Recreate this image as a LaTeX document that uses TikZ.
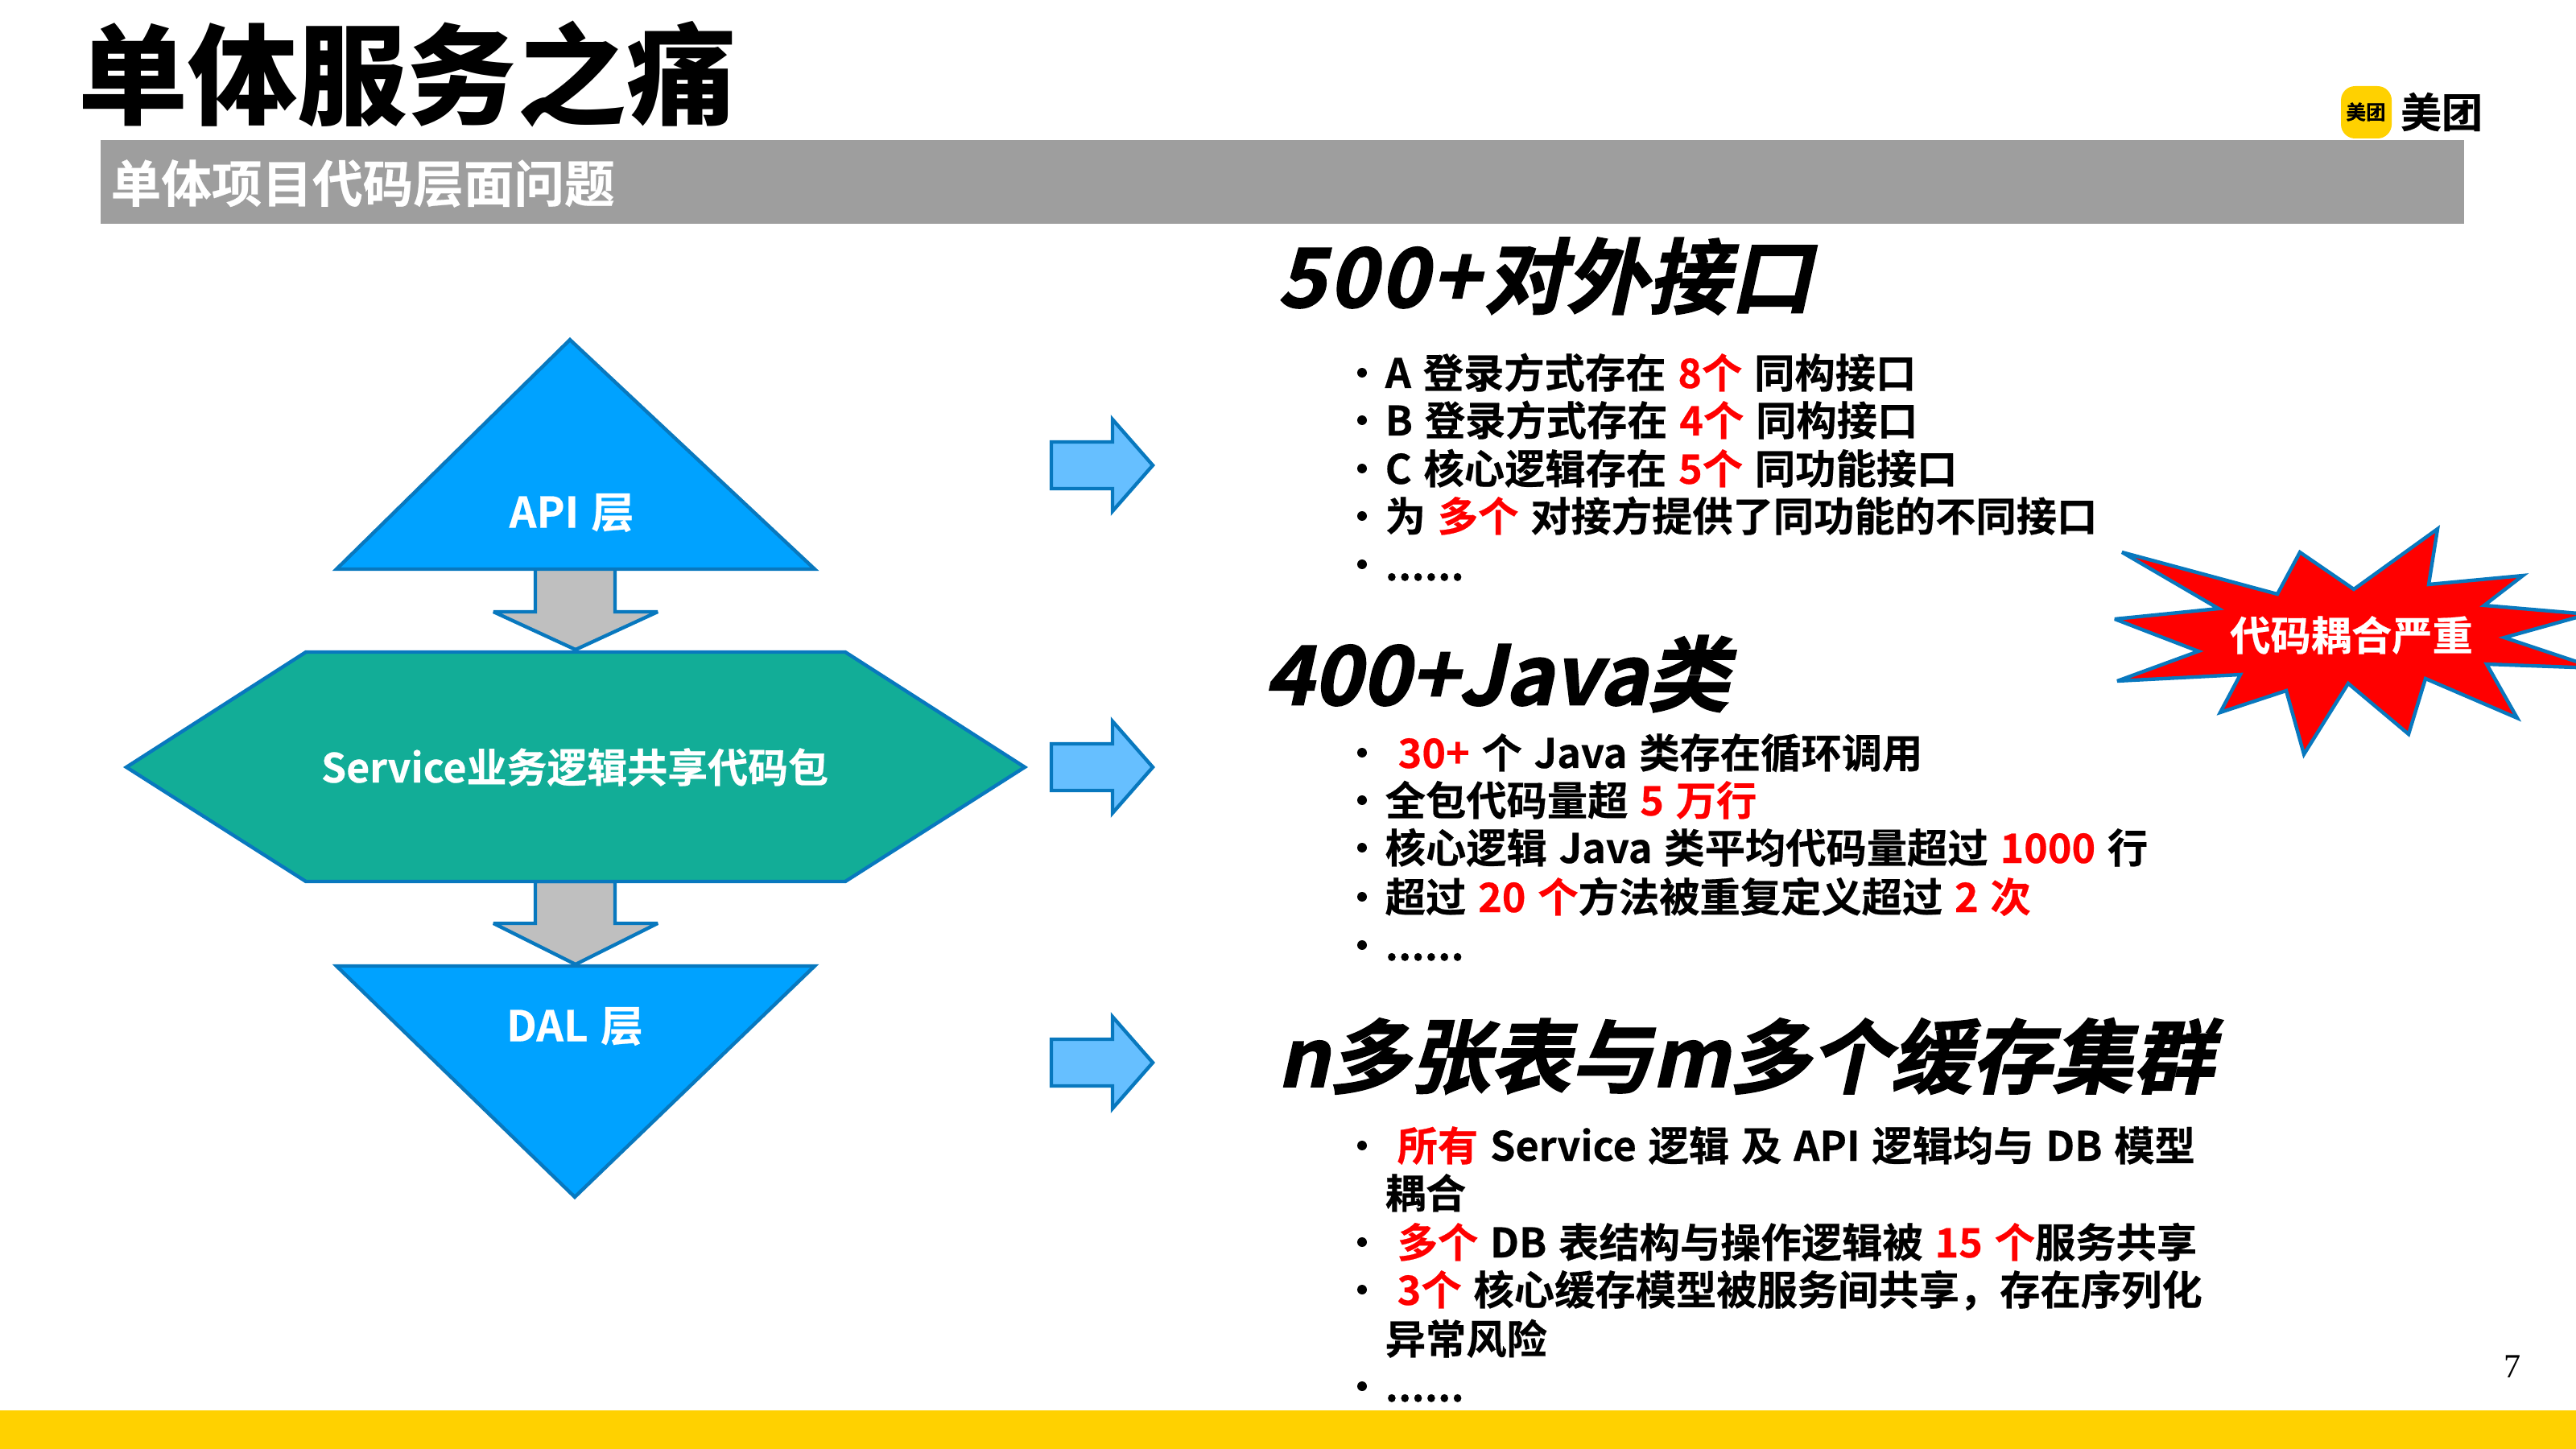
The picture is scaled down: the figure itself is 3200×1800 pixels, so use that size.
\documentclass[tikz,border=0pt]{standalone}
\usepackage{fontspec}
\setmainfont[WordSpace=1.3,FakeBold=0.4]{Noto Sans CJK SC Bold}
\newfontfamily\cjkheavy{Noto Sans CJK SC Black}
\newfontfamily\cjkslant[FakeSlant=0.22,FakeBold=1.5]{Noto Sans CJK SC Bold}
\newfontfamily\pagefont{Liberation Serif}
\definecolor{band}{HTML}{FFD100}
\definecolor{greybar}{HTML}{9E9E9E}
\definecolor{skyfill}{HTML}{00A2FF}
\definecolor{sealine}{HTML}{0878BE}
\definecolor{tealfill}{HTML}{12AD97}
\definecolor{greyfill}{HTML}{BFBFBF}
\definecolor{lightfill}{HTML}{66BFFF}
\definecolor{hotred}{HTML}{FF0000}
\newcommand{\hot}[1]{\textcolor{hotred}{#1}}
\tikzset{
	shapeline/.style={draw=sealine,line width=1.25pt,line join=miter,miter limit=4},
	layerlabel/.style={text=white,font=\fontsize{14.2pt}{14.2pt}\selectfont,inner sep=0pt},
	headline/.style={anchor=west,inner sep=0pt,font=\fontsize{29pt}{29pt}\selectfont\cjkslant},
	item/.style={anchor=west,inner sep=0pt,text height=12.5pt,text depth=1.7pt,font=\fontsize{14.3pt}{14.3pt}\selectfont},
	dot/.style={circle,fill=black,inner sep=0pt,minimum size=3.4pt}
}
\begin{document}
\begin{tikzpicture}[x=0.01cm,y=-0.01cm,line cap=butt]
	\useasboundingbox (0,0) rectangle (3200,1800);
	% page furniture
	\fill[band] (0,1752) rectangle (3200,1800);
	\fill[greybar] (125,174) rectangle (3061,278);
	\node[anchor=west,inner sep=0pt,font=\fontsize{38.7pt}{38.7pt}\selectfont\cjkheavy] (title) at (97,92) {单体服务之痛};
	\node[anchor=west,inner sep=0pt,text=white,font=\fontsize{17.8pt}{17.8pt}\selectfont] (subtitle) at (137,228) {单体项目代码层面问题};
	\fill[band,rounded corners=5pt] (2908,107) rectangle (2971,172);
	\node[inner sep=0pt,font=\fontsize{7pt}{7pt}\selectfont] (logosmall) at (2939,139) {美团};
	\node[inner sep=0pt,font=\fontsize{14.5pt}{14.5pt}\selectfont] (logobig) at (3033,139) {美团};
	\node[inner sep=0pt,font=\fontsize{12pt}{12pt}\selectfont\pagefont] (pageno) at (3121,1698) {7};
	% layers
	\draw[shapeline,fill=greyfill] (665,705)--(665,760)--(613,760)--(715,807)--(817,760)--(764,760)--(764,705)--cycle;
	\draw[shapeline,fill=greyfill] (665,1095)--(665,1147)--(613,1147)--(715,1198)--(817,1147)--(764,1147)--(764,1095)--cycle;
	\draw[shapeline,fill=skyfill] (708,422)--(1012,707)--(418,707)--cycle;
	\draw[shapeline,fill=tealfill] (157,953)--(380,810)--(1050,810)--(1273,953)--(1050,1095)--(380,1095)--cycle;
	\draw[shapeline,fill=skyfill] (418,1200)--(1012,1200)--(714,1487)--cycle;
	\node[layerlabel,font=\fontsize{15pt}{15pt}\selectfont] (api) at (710,637) {API 层};
	\node[layerlabel] (service) at (714,953) {Service业务逻辑共享代码包};
	\node[layerlabel,font=\fontsize{15pt}{15pt}\selectfont] (dal) at (714,1275) {DAL 层};
	% arrows to the right
	\foreach \ypos in {578,953,1320}
		\draw[shapeline,fill=lightfill] (1306,\ypos-29)--(1382,\ypos-29)--(1382,\ypos-57)--(1432,\ypos)--(1382,\ypos+57)--(1382,\ypos+29)--(1306,\ypos+29)--cycle;
	% burst
	\draw[shapeline,fill=hotred] (2636,686)--(2829,738)--(2857,686)--(2924,732)--(3028,657)--(3017,726)--(3134,715)--(3086,752)--(3215,763)--(3111,792)--(3225,830)--(3089,825)--(3127,892)--(3013,843)--(2992,912)--(2917,849)--(2862,937)--(2840,858)--(2758,885)--(2783,838)--(2630,846)--(2731,809)--(2627,769)--(2756,756)--cycle;
	\node[inner sep=0pt,text=white,font=\fontsize{14.3pt}{14.3pt}\selectfont] (burst) at (2921,789) {代码耦合严重};
	% first block
	\node[headline] (headone) at (1586,343) {5\kern1pt 0\kern1pt 0\kern1pt +\kern1.5pt 对外接口};
	\node[dot] (a1) at (1692,463) {};
	\node[item] (t1) at (1720,463) {A 登录方式存在 \hot{8个} 同构接口};
	\node[dot] (a2) at (1692,522) {};
	\node[item] (t2) at (1720,522) {B 登录方式存在 \hot{4个} 同构接口};
	\node[dot] (a3) at (1692,582) {};
	\node[item] (t3) at (1720,582) {C 核心逻辑存在 \hot{5个} 同功能接口};
	\node[dot] (a4) at (1692,641) {};
	\node[item] (t4) at (1720,641) {为 \hot{多个} 对接方提供了同功能的不同接口};
	\node[dot] (a5) at (1692,701) {};
	\node[item] (t5) at (1720,702) {......};
	% second block
	\node[headline] (headtwo) at (1570,837) {400+Java类};
	\node[dot] (b1) at (1692,935) {};
	\node[item] (u1) at (1736,935) {\hot{30+} 个 Java 类存在循环调用};
	\node[dot] (b2) at (1692,994) {};
	\node[item] (u2) at (1720,994) {全包代码量超 \hot{5 万行}};
	\node[dot] (b3) at (1692,1053) {};
	\node[item] (u3) at (1720,1053) {核心逻辑 Java 类平均代码量超过 \hot{1000} 行};
	\node[dot] (b4) at (1692,1114) {};
	\node[item] (u4) at (1720,1114) {超过 \hot{20 个}方法被重复定义超过 \hot{2 次}};
	\node[dot] (b5) at (1692,1174) {};
	\node[item] (u5) at (1720,1174) {......};
	% third block
	\node[headline,font=\fontsize{28.5pt}{28.5pt}\selectfont\cjkslant] (headthree) at (1586,1312) {n多张表与m多个缓存集群};
	\node[dot] (c1) at (1692,1423) {};
	\node[item] (v1) at (1735,1423) {\hot{所有} Service 逻辑 及 API 逻辑均与 DB 模型};
	\node[item] (v1b) at (1720,1482) {耦合};
	\node[dot] (c2) at (1692,1543) {};
	\node[item] (v2) at (1735,1543) {\hot{多个} DB 表结构与操作逻辑被 \hot{15 个}服务共享};
	\node[dot] (c3) at (1692,1602) {};
	\node[item] (v3) at (1735,1602) {\hot{3个} 核心缓存模型被服务间共享，存在序列化};
	\node[item] (v3b) at (1720,1663) {异常风险};
	\node[dot] (c4) at (1692,1722) {};
	\node[item] (v4) at (1720,1722) {......};
\end{tikzpicture}
\end{document}
